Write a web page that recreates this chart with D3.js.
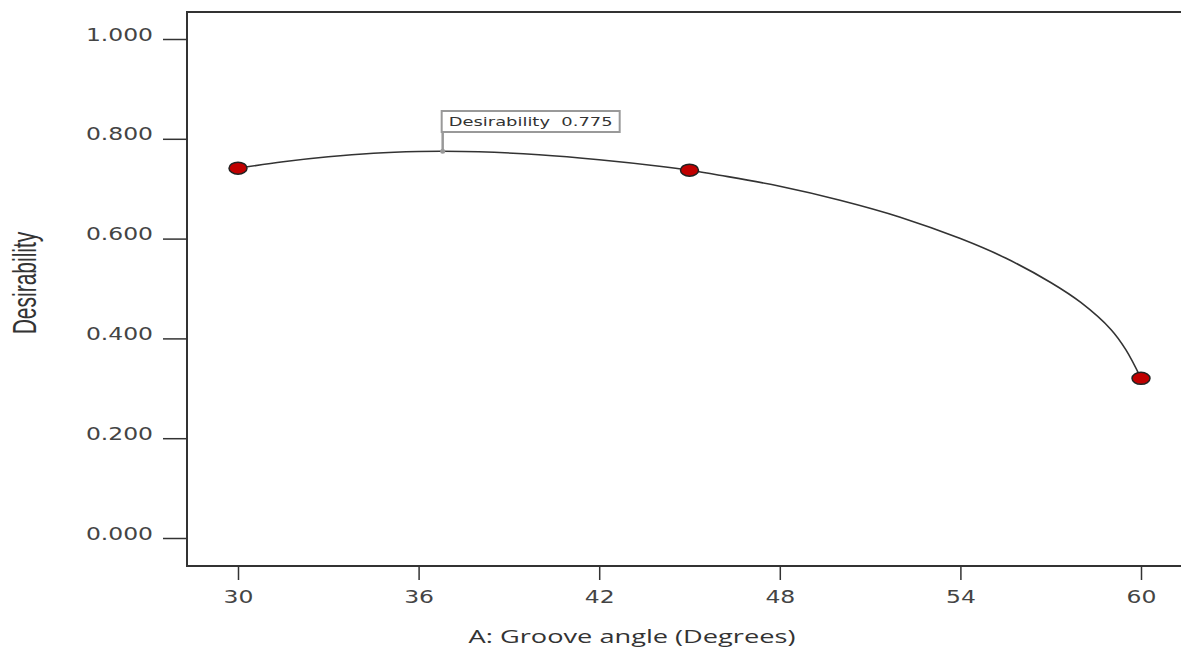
<!DOCTYPE html>
<html>
<head>
<meta charset="utf-8">
<script src="https://cdn.jsdelivr.net/npm/d3@7"></script>
<style>
  body { margin: 0; background: #fff; }
  svg { display: block; }
</style>
</head>
<body>
<svg id="chart" width="1181" height="650"></svg>
<script>
// values
let curveA = [30, 31.5, 33, 34.5, 36, 36.8, 38, 40, 42, 44, 45, 46, 48, 50, 52, 54, 55.5, 57, 58, 59, 59.5, 60];
let curveD = [0.741, 0.754, 0.764, 0.771, 0.7745, 0.775, 0.774, 0.768, 0.758, 0.745, 0.737, 0.727, 0.705, 0.677, 0.643, 0.600, 0.561, 0.512, 0.472, 0.418, 0.377, 0.320];
let designA = [30, 45, 60];
let designD = [0.741, 0.737, 0.320];
let xTicks = [30, 36, 42, 48, 54, 60];
let yTicks = [0, 0.2, 0.4, 0.6, 0.8, 1.0];
let peak = {a: 36.8, d: 0.775, label: "Desirability  0.775"};

let svg = d3.select("#chart");
let SX = 1.38; // horizontal stretch of the reference text

let x = d3.scaleLinear().domain([30, 60]).range([238, 1141]);
let y = d3.scaleLinear().domain([0, 1]).range([538, 39]);
let frame = {left: 187, bottom: 566, top: 12, right: 1181};

// frame
svg.append("path")
  .attr("d", `M${frame.right},${frame.top}H${frame.left}V${frame.bottom}H${frame.right}`)
  .attr("fill", "none")
  .attr("stroke", "#333")
  .attr("stroke-width", 2);

// y axis
let gy = svg.append("g")
  .attr("transform", `translate(${frame.left},0)`)
  .call(d3.axisLeft(y).tickValues(yTicks).tickFormat(d3.format(".3f")).tickSize(24));
gy.select(".domain").remove();
gy.selectAll("line").attr("stroke", "#333").attr("stroke-width", 1.5);
gy.selectAll("text")
  .attr("x", -34 / SX)
  .attr("dy", 1)
  .attr("transform", `scale(${SX},1)`)
  .attr("fill", "#444")
  .style("font-family", "DejaVu Sans, sans-serif")
  .style("font-size", "17px");

// x axis
let gx = svg.append("g")
  .attr("transform", `translate(0,${frame.bottom})`)
  .call(d3.axisBottom(x).tickValues(xTicks).tickFormat(d3.format("d")).tickSize(14));
gx.select(".domain").remove();
gx.selectAll("line").attr("stroke", "#333").attr("stroke-width", 1.5);
gx.selectAll(".tick text")
  .attr("y", 37)
  .attr("dy", 0)
  .attr("transform", `scale(${SX},1)`)
  .attr("fill", "#444")
  .style("font-family", "DejaVu Sans, sans-serif")
  .style("font-size", "17px");

// stretch helper: scale a text horizontally to the width seen in the reference
function fit(text, width) {
  let w = text.node().getComputedTextLength();
  return width / w;
}

// axis titles
let xt = svg.append("g").attr("transform", "translate(632,643)");
let xtText = xt.append("text")
  .attr("text-anchor", "middle")
  .attr("fill", "#333")
  .style("font-family", "Open Sans, sans-serif")
  .style("font-size", "18px")
  .text("A: Groove angle (Degrees)");
xtText.attr("transform", `scale(${fit(xtText, 327)},1)`);

let yt = svg.append("g").attr("transform", "translate(36,283) scale(1.55,1)");
yt.append("text")
  .attr("transform", "rotate(-90)")
  .attr("text-anchor", "middle")
  .attr("fill", "#333")
  .style("font-family", "Liberation Sans, sans-serif")
  .style("font-size", "21px")
  .text("Desirability");

// curve
let pts = curveA.map((a, i) => [a, curveD[i]]);
svg.append("path")
  .datum(pts)
  .attr("fill", "none")
  .attr("stroke", "#333")
  .attr("stroke-width", 1.6)
  .attr("d", d3.line().x(d => x(d[0])).y(d => y(d[1])).curve(d3.curveCatmullRom.alpha(0.5)));

// design points
svg.append("g")
  .selectAll("ellipse")
  .data(designA)
  .join("ellipse")
  .attr("cx", d => x(d))
  .attr("cy", (d, i) => y(designD[i]))
  .attr("rx", 9)
  .attr("ry", 6)
  .attr("fill", "#c00000")
  .attr("stroke", "#222")
  .attr("stroke-width", 1.5);

// flag at the optimum
let px = x(peak.a), py = y(peak.d);
let flag = svg.append("g");
flag.append("line")
  .attr("x1", px).attr("x2", px)
  .attr("y1", py).attr("y2", 132)
  .attr("stroke", "#999")
  .attr("stroke-width", 2.5);
flag.append("circle")
  .attr("cx", px).attr("cy", py).attr("r", 2.5)
  .attr("fill", "#999");
flag.append("rect")
  .attr("x", px - 1).attr("y", 111)
  .attr("width", 178).attr("height", 21)
  .attr("fill", "#fff")
  .attr("stroke", "#999")
  .attr("stroke-width", 2);
let ft = flag.append("g").attr("transform", `translate(${px + 6},126)`);
let ftText = ft.append("text")
  .attr("fill", "#333")
  .style("font-family", "DejaVu Sans, sans-serif")
  .style("font-size", "12px")
  .style("white-space", "pre")
  .text(peak.label);
ftText.attr("transform", `scale(${fit(ftText, 164)},1)`);
</script>
</body>
</html>
